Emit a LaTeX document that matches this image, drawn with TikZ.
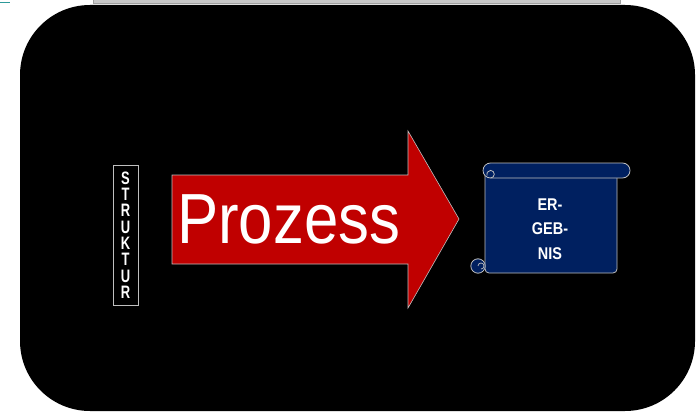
\documentclass[tikz,border=0pt]{standalone}
\usepackage{fontspec}
\setmainfont{Liberation Sans}
\usepackage{xcolor}
\usepackage{tikz}
\usetikzlibrary{positioning,calc}
\definecolor{procred}{HTML}{C00000}
\definecolor{resnavy}{HTML}{002060}
\definecolor{edge}{HTML}{BFBFBF}
\definecolor{barfill}{HTML}{C8C8C8}
\definecolor{bardraw}{HTML}{A0A0A0}
\definecolor{teal}{HTML}{2E9A9A}
\tikzset{
  stage/.style={fill=black, rounded corners=70pt},
  strukb/.style={draw=edge, line width=0.8pt, fill=black, text=white,
                 minimum width=25pt, minimum height=140pt, inner sep=0pt,
                 align=center, font=\bfseries\fontsize{18}{16.3}\selectfont},
  procar/.style={fill=procred, draw=edge, line width=0.6pt},
  scrollb/.style={fill=resnavy, draw=edge, line width=0.8pt},
  restxt/.style={text=white, align=center, inner sep=0pt,
                 font=\bfseries\fontsize{17}{24.5}\selectfont},
}

\begin{document}
\begin{tikzpicture}[x=1pt, y=-1pt]
  \useasboundingbox (0,0) rectangle (700,414);

  % --- Reste oben: Leiste und kleine Linie ---
  \draw[bardraw, fill=barfill, line width=0.8pt] (93,-6) rectangle (620,3);
  \draw[teal, line width=1.2pt] (0,2.5) -- (10,2.5);

  % --- schwarze Flaeche ---
  \fill[stage] (20,5) rectangle (695,411);

  % --- Struktur: senkrechte Buchstaben ---
  \node[strukb] (struktur) at (125.5,235)
       {\scalebox{0.72}[1]{S}\\\scalebox{0.72}[1]{T}\\\scalebox{0.72}[1]{R}\\
        \scalebox{0.72}[1]{U}\\\scalebox{0.72}[1]{K}\\\scalebox{0.72}[1]{T}\\
        \scalebox{0.72}[1]{U}\\\scalebox{0.72}[1]{R}};

  % --- Prozess: Blockpfeil ---
  \def\yt{175} \def\yb{264} \def\xh{408}
  \draw[procar] (172,\yt) -- (\xh,\yt) -- (\xh,131) -- (459,219)
       -- (\xh,308) -- (\xh,\yb) -- (172,\yb) -- cycle;
  \node[anchor=base west, inner sep=0pt, text=white,
        font=\fontsize{71}{71}\selectfont] (prozess) at (177,243)
       {\scalebox{0.87}[1]{Prozess}};

  % --- Ergebnis: Schriftrolle ---
  \draw[scrollb, rounded corners=4pt] (485,170) -- (485,273) -- (617,273) -- (617,170);
  \draw[scrollb, rounded corners=7.5pt] (483,163) rectangle (630,178);
  \draw[edge, line width=0.8pt] (490.5,178) arc[start angle=90, end angle=-200, radius=3.8];
  \draw[scrollb] (478,266) circle (7.2);
  \draw[edge, line width=0.7pt] (478,266) arc[start angle=180, end angle=450, radius=3];
  \node[restxt] (ergebnis) at (550,229)
       {\scalebox{0.85}[1]{ER-}\\\scalebox{0.85}[1]{GEB-}\\\scalebox{0.85}[1]{NIS}};
\end{tikzpicture}
\end{document}
